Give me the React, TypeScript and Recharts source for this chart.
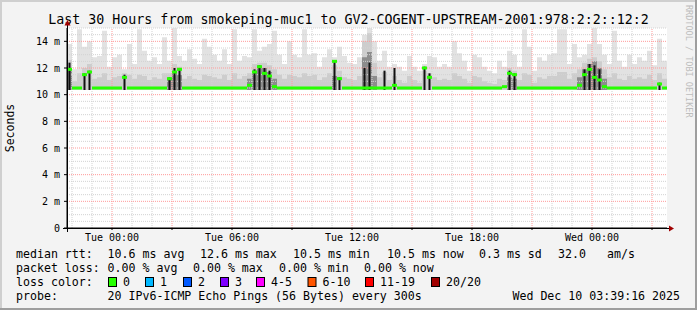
import React from 'react';
import { ComposedChart, Area, Scatter, XAxis, YAxis, CartesianGrid, ReferenceLine } from 'recharts';

const FONT = '"DejaVu Sans Mono", monospace';

// smoke envelope in ms, one value per 15 min column (Mon 21:45 .. Wed 03:45)
const smokeMax = [
  13.8, 11.9, 14.9, 13.6, 14.0, 12.8, 12.9, 14.8, 12.1, 12.8,
  13.0, 11.9, 13.8, 12.3, 14.9, 13.3, 12.55, 12.8, 12.3, 14.3,
  12.55, 15.0, 12.9, 12.55, 13.4, 12.7, 12.3, 14.2, 13.6, 13.0,
  12.55, 13.4, 12.3, 14.9, 12.55, 12.9, 12.8, 14.9, 13.3, 13.6,
  13.8, 14.8, 13.0, 12.3, 14.0, 13.0, 12.8, 14.9, 13.0, 13.1,
  12.1, 12.8, 13.4, 12.8, 13.6, 12.9, 12.4, 12.3, 12.8, 14.5,
  15.0, 14.0, 12.55, 13.3, 12.1, 12.3, 12.1, 11.8, 12.9, 12.1,
  11.8, 12.3, 12.9, 12.8, 12.1, 12.3, 12.1, 14.0, 13.1, 12.55,
  11.8, 13.0, 12.8, 12.1, 11.8, 11.6, 12.55, 12.1, 13.3, 13.0,
  12.1, 14.9, 13.6, 11.8, 12.8, 12.55, 13.0, 13.1, 14.9, 14.9,
  12.3, 13.8, 12.8, 13.0, 13.8, 15.0, 13.8, 13.0, 12.3, 14.8,
  12.55, 12.1, 13.0, 12.3, 12.8, 12.55, 13.3, 12.2, 14.2, 12.55,
];

const smokeMid = [
  12.6, 11.0, 11.6, 12.0, 12.3, 11.2, 11.3, 11.6, 11.1, 11.3,
  11.4, 11.6, 11.5, 11.2, 11.5, 11.4, 11.1, 11.3, 11.2, 11.6,
  11.6, 12.3, 12.1, 11.2, 11.4, 11.2, 11.1, 11.5, 11.4, 11.3,
  11.2, 11.5, 11.1, 11.6, 11.2, 11.4, 11.6, 12.3, 12.4, 12.4,
  12.2, 11.9, 11.5, 11.2, 11.5, 11.4, 11.3, 11.6, 11.4, 11.5,
  11.1, 11.3, 11.6, 12.2, 11.8, 11.3, 11.2, 11.1, 11.4, 14.0,
  14.6, 12.4, 11.3, 11.7, 11.1, 11.4, 11.1, 10.9, 11.4, 11.1,
  10.9, 11.8, 11.6, 11.3, 11.1, 11.2, 11.1, 11.6, 11.4, 11.2,
  10.9, 11.4, 11.3, 11.0, 10.9, 10.8, 11.2, 11.1, 12.0, 11.8,
  11.1, 11.6, 11.5, 10.9, 11.3, 11.2, 11.4, 11.4, 11.7, 11.7,
  11.2, 11.6, 11.9, 12.4, 12.7, 12.8, 12.5, 11.9, 11.3, 11.6,
  11.2, 11.1, 11.4, 11.2, 11.3, 11.2, 11.5, 11.1, 11.6, 11.2,
];

// darker inner smoke, only in the busy stretches
const smokeDark = [
  11.8, 10.35, 10.35, 10.35, 10.35, 10.35, 10.35, 10.35, 10.35, 10.35,
  10.35, 10.35, 10.35, 10.35, 10.35, 10.35, 10.35, 10.35, 10.35, 10.35,
  11.2, 11.6, 11.5, 10.35, 10.35, 10.35, 10.35, 10.35, 10.35, 10.35,
  10.35, 10.35, 10.35, 10.35, 10.35, 10.35, 11.2, 11.8, 12.0, 12.0,
  11.7, 11.2, 10.35, 10.35, 10.35, 10.35, 10.35, 10.35, 10.35, 10.35,
  10.35, 10.35, 10.35, 11.4, 10.35, 10.35, 10.35, 10.35, 10.35, 12.8,
  13.2, 11.4, 10.35, 10.35, 10.35, 10.35, 10.35, 10.35, 10.35, 10.35,
  10.35, 10.35, 10.35, 10.35, 10.35, 10.35, 10.35, 10.35, 10.35, 10.35,
  10.35, 10.35, 10.35, 10.35, 10.35, 10.35, 10.35, 10.35, 11.3, 11.2,
  10.35, 10.35, 10.35, 10.35, 10.35, 10.35, 10.35, 10.35, 10.35, 10.35,
  10.35, 10.35, 11.3, 11.9, 12.3, 12.5, 12.0, 11.2, 10.35, 10.35,
  10.35, 10.35, 10.35, 10.35, 10.35, 10.35, 10.35, 10.35, 10.35, 10.35,
];

// black spikes: column -> top of spike (ms)
const spikeCols = [0, 3, 4, 11, 20, 21, 22, 37, 38, 39, 40, 53, 54, 59, 60, 63, 65, 71, 72, 88, 89, 103, 104, 105, 106, 118];
const spikeTops = [12.4, 11.6, 11.8, 11.5, 11.3, 12.0, 12.0, 11.9, 12.2, 12.0, 11.8, 12.5, 11.3, 12.0, 12.4, 11.8, 12.0, 12.1, 11.6, 11.8, 11.6, 11.9, 12.3, 12.2, 11.9, 10.9];

const medianRtt = [
  11.9, 10.5, 10.5, 11.5, 11.7, 10.5, 10.5, 10.5, 10.5, 10.5,
  10.5, 11.3, 10.5, 10.5, 10.5, 10.5, 10.5, 10.5, 10.5, 10.5,
  11.2, 11.7, 11.9, 10.5, 10.5, 10.5, 10.5, 10.5, 10.5, 10.5,
  10.5, 10.5, 10.5, 10.5, 10.5, 10.5, 10.7, 11.7, 12.1, 11.6,
  11.4, 10.6, 10.5, 10.5, 10.5, 10.5, 10.5, 10.5, 10.5, 10.5,
  10.5, 10.5, 10.5, 12.5, 11.2, 10.5, 10.5, 10.5, 10.5, 10.5,
  10.5, 10.5, 10.5, 10.5, 10.5, 10.7, 10.5, 10.5, 10.5, 10.5,
  10.5, 12.0, 11.3, 10.5, 10.5, 10.5, 10.5, 10.5, 10.5, 10.5,
  10.5, 10.5, 10.5, 10.5, 10.5, 10.5, 10.5, 10.6, 11.6, 11.5,
  10.5, 10.5, 10.5, 10.5, 10.5, 10.5, 10.5, 10.5, 10.5, 10.5,
  10.5, 10.5, 10.7, 11.5, 11.9, 11.3, 11.1, 10.6, 10.5, 10.5,
  10.5, 10.5, 10.5, 10.5, 10.5, 10.5, 10.5, 10.5, 10.8, 10.5,
];

const SMOKE_FLOOR = 10.35;

const yTicks = [0, 2, 4, 6, 8, 10, 12, 14];
const xMajorCols = [9, 21, 33, 45, 57, 69, 81, 93, 105, 117];
const xLabelCols = [9, 33, 57, 81, 105];
const xLabels = ['Tue 00:00', 'Tue 06:00', 'Tue 12:00', 'Tue 18:00', 'Wed 00:00'];

const titleText = 'Last 30 Hours from smokeping-muc1 to GV2-COGENT-UPSTREAM-2001:978:2:2::12:2';
const rttStats = ['10.6 ms avg', '12.6 ms max', '10.5 ms min', '10.5 ms now', '0.3 ms sd', '32.0', 'am/s'];
const lossStats = ['0.00 % avg', '0.00 % max', '0.00 % min', '0.00 % now'];
const lossLabels = ['0', '1', '2', '3', '4-5', '6-10', '11-19', '20/20'];
const lossColors = ['#26ff00', '#00b8ff', '#0059ff', '#7e00ff', '#ff00ff', '#ff5500', '#ff0000', '#a10000'];
const probeText = '20 IPv6-ICMP Echo Pings (56 Bytes) every 300s';
const stampText = 'Wed Dec 10 03:39:16 2025';

// layout
const rttX = [107.6, 200, 293, 387, 479, 558, 607];
const lossX = [107.6, 193, 279, 364];
const swatchX = [108, 145, 183, 220, 256, 307.5, 365, 431];

const rows = smokeMax.map((m, i) => ({ x: i, max: m, mid: smokeMid[i], dark: smokeDark[i] }));
rows.push({ x: 120, max: smokeMax[119], mid: smokeMid[119], dark: smokeDark[119] });
const medianPts = medianRtt.map((v, i) => ({ x: i, median: v }));

const minorY = Array.from({ length: 30 }, (_, k) => (k + 1) * 0.5).filter(v => v % 2 !== 0);
const majorY = [2, 4, 6, 8, 10, 12, 14];
const minorX = Array.from({ length: 30 }, (_, k) => 1 + 4 * k).filter(c => !xMajorCols.includes(c));

const MedianTick = (props: any) => {
  const { cx, cy } = props;
  if (cx == null || cy == null) return null;
  return <rect x={cx} y={cy - 1.5} width={5} height={3} fill="#26ff00" />;
};

export default function App() {
  const legend = { fontFamily: FONT, fontSize: 11.6, fill: '#000' } as const;
  return (
    <div style={{ position: 'absolute', left: 0, top: 0, width: 697, height: 310, background: '#f3f3f3' }}>
      <ComposedChart width={697} height={310} data={rows} margin={{ top: 28, right: 30, bottom: 52, left: 7 }}>
        <CartesianGrid horizontal={false} vertical={false} fill="#ffffff" />
        <XAxis
          dataKey="x"
          type="number"
          domain={[0, 120]}
          ticks={xMajorCols}
          interval={0}
          height={30}
          tickSize={2}
          tickMargin={4}
          tickFormatter={(v: number) => {
            const k = xLabelCols.indexOf(v);
            return k >= 0 ? xLabels[k] : '';
          }}
          axisLine={{ stroke: '#000' }}
          tickLine={{ stroke: '#000' }}
          tick={{ fontFamily: FONT, fontSize: 10, fill: '#000' }}
        />
        <YAxis
          type="number"
          domain={[0, 15]}
          ticks={yTicks}
          width={60}
          tickSize={3}
          tickMargin={4}
          allowDataOverflow
          tickFormatter={(v: number) => (v === 0 ? '0' : `${v} m`)}
          axisLine={{ stroke: '#000' }}
          tickLine={{ stroke: '#000' }}
          tick={{ fontFamily: FONT, fontSize: 10, fill: '#000' }}
        />
        <Area type="stepAfter" dataKey="max" baseValue={SMOKE_FLOOR} stroke="none" fill="#e2e2e2" fillOpacity={1} isAnimationActive={false} />
        <Area type="stepAfter" dataKey="mid" baseValue={SMOKE_FLOOR} stroke="none" fill="#cdcdcd" fillOpacity={1} isAnimationActive={false} />
        <Area type="stepAfter" dataKey="dark" baseValue={SMOKE_FLOOR} stroke="none" fill="#8c8c8c" fillOpacity={1} isAnimationActive={false} />
        {minorY.map(v => (
          <ReferenceLine key={`my${v}`} y={v} stroke="#d2d2d2" strokeDasharray="1 1" />
        ))}
        {minorX.map(c => (
          <ReferenceLine key={`mx${c}`} x={c} stroke="#d2d2d2" strokeDasharray="1 1" />
        ))}
        {majorY.map(v => (
          <ReferenceLine key={`My${v}`} y={v} stroke="#ff9a9a" strokeDasharray="1 1" />
        ))}
        {xMajorCols.map(c => (
          <ReferenceLine key={`Mx${c}`} x={c} stroke="#ff9a9a" strokeDasharray="1 1" />
        ))}
        {spikeCols.map((c, i) => (
          <ReferenceLine
            key={`sp${c}`}
            segment={[{ x: c + 0.5, y: SMOKE_FLOOR }, { x: c + 0.5, y: spikeTops[i] }]}
            stroke="#111"
            strokeWidth={2}
          />
        ))}
        <Scatter data={medianPts} dataKey="median" shape={MedianTick} isAnimationActive={false} />
      </ComposedChart>

      <svg width={697} height={310} style={{ position: 'absolute', left: 0, top: 0, pointerEvents: 'none' }}>
        {/* frame */}
        <line x1={0} y1={1} x2={697} y2={1} stroke="#cfcfcf" strokeWidth={2} />
        <line x1={1} y1={0} x2={1} y2={310} stroke="#cfcfcf" strokeWidth={2} />
        <line x1={0} y1={309} x2={697} y2={309} stroke="#9e9e9e" strokeWidth={2} />
        <line x1={696} y1={0} x2={696} y2={310} stroke="#9e9e9e" strokeWidth={2} />

        <text x={348.5} y={23.5} textAnchor="middle" style={{ fontFamily: FONT, fontSize: 13.3, fill: '#000' }}>
          {titleText}
        </text>
        <text
          transform="translate(14,128) rotate(-90)"
          textAnchor="middle"
          style={{ fontFamily: FONT, fontSize: 11.5, fill: '#000' }}
        >
          Seconds
        </text>
        <text
          transform="translate(685.5,5) rotate(90)"
          style={{ fontFamily: FONT, fontSize: 8.5, fill: '#bdbdbd' }}
        >
          RRDTOOL / TOBI OETIKER
        </text>

        {/* axis extensions and arrows */}
        <line x1={67.5} y1={22} x2={67.5} y2={232} stroke="#000" />
        <line x1={63} y1={228.5} x2={670} y2={228.5} stroke="#000" />
        <polygon points="64.5,25.5 70.5,25.5 67.5,20" fill="#a00000" />
        <polygon points="669,225.5 669,231.5 674,228.5" fill="#a00000" />

        <text x={16} y={258} style={legend}>median rtt:</text>
        {rttStats.map((t, i) => (
          <text key={t + i} x={rttX[i]} y={258} style={legend}>{t}</text>
        ))}
        <text x={16} y={272} style={legend}>packet loss:</text>
        {lossStats.map((t, i) => (
          <text key={t + i} x={lossX[i]} y={272} style={legend}>{t}</text>
        ))}
        <text x={16} y={286} style={legend}>loss color:</text>
        {lossLabels.map((t, i) => (
          <g key={t}>
            <rect x={swatchX[i] + 0.5} y={277.5} width={8} height={9} fill={lossColors[i]} stroke="#000" strokeWidth={1} />
            <text x={swatchX[i] + 15} y={286} style={legend}>{t}</text>
          </g>
        ))}
        <text x={16} y={300} style={legend}>probe:</text>
        <text x={107.6} y={300} style={legend}>{probeText}</text>
        <text x={680} y={300} textAnchor="end" style={legend}>{stampText}</text>
      </svg>
    </div>
  );
}
